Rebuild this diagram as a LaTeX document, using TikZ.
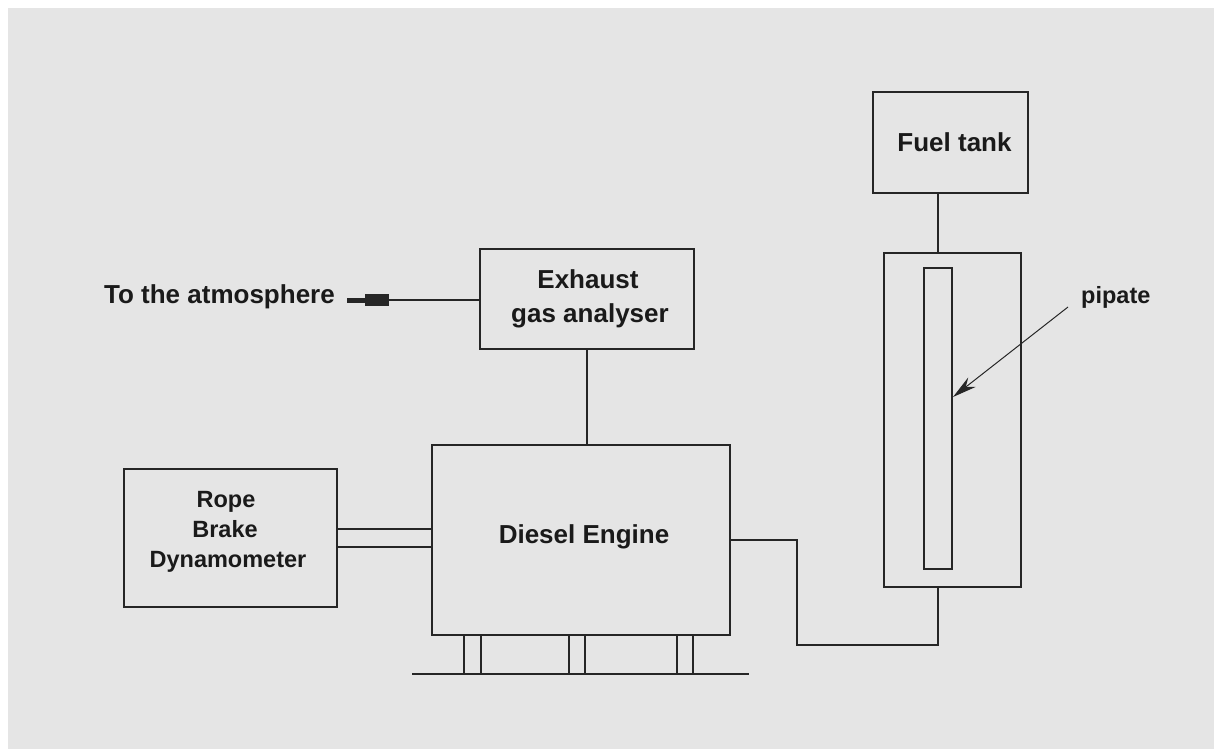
\documentclass[tikz,border=0pt]{standalone}
\usepackage{fontspec}
\setmainfont{Liberation Sans}
\usetikzlibrary{arrows.meta,calc}
\definecolor{bgc}{HTML}{E5E5E5}
\definecolor{lnc}{HTML}{262626}
\definecolor{txc}{HTML}{1A1A1A}
\tikzset{
  box/.style={draw=lnc, line width=1.6pt, rectangle, inner sep=0pt},
  lbl/.style={text=txc, font=\fontsize{26}{30}\selectfont\bfseries, inner sep=0pt},
  slbl/.style={text=txc, font=\fontsize{23.5}{30}\selectfont\bfseries, inner sep=0pt},
  conn/.style={draw=lnc, line width=1.6pt},
}
\begin{document}
\begin{tikzpicture}[x=1pt,y=-1pt]
\useasboundingbox (0,0) rectangle (1214,749);
\fill[white] (0,0) rectangle (1214,749);
\fill[bgc] (8,8) rectangle (1214,749);

% boxes
\node[box, minimum width=155pt, minimum height=101pt] (fuel) at (950.5,142.5) {};
\node[lbl] (fuellbl) at (954.5,142.5) {Fuel tank};
\node[box, minimum width=137pt, minimum height=334pt] (burette) at (952.5,420) {};
\node[box, minimum width=28pt, minimum height=301pt] (tube) at (938,418.5) {};
\node[box, minimum width=214pt, minimum height=100pt] (exhaust) at (587,299) {};
\node[lbl, anchor=base] (exl1) at (588,288) {Exhaust};
\node[lbl, anchor=base] (exl2) at (590,322) {gas analyser};
\node[box, minimum width=298pt, minimum height=190pt] (engine) at (581,540) {};
\node[lbl, anchor=base] (englbl) at (584,543) {Diesel Engine};
\node[box, minimum width=213pt, minimum height=138pt] (dyno) at (230.5,538) {};
\node[slbl, anchor=base] (dy1) at (226,507) {Rope};
\node[slbl, anchor=base] (dy2) at (225,537) {Brake};
\node[slbl, anchor=base] (dy3) at (228,567) {Dynamometer};

% legs and ground
\node[box, minimum width=17pt, minimum height=39pt] (leg1) at (472.5,654.5) {};
\node[box, minimum width=16pt, minimum height=39pt] (leg2) at (577,654.5) {};
\node[box, minimum width=16pt, minimum height=39pt] (leg3) at (685,654.5) {};
\coordinate (g1) at (412,674);
\coordinate (g2) at (749,674);
\draw[conn] (g1) -- (g2);

% labels
\node[lbl, anchor=base east] (atm) at (335,303) {To the atmosphere};
\node[slbl, anchor=base west] (pip) at (1081,303) {pipate};
\coordinate (atmtip) at (347,300);
\coordinate (pstart) at (1068,307);
\coordinate (ptip) at (953,397);

% connectors
\draw[conn] (tube.north |- fuel.south) -- (tube.north |- burette.north);
\draw[conn] (exhaust.south) -- (exhaust.south |- engine.north);
\draw[conn, -{Rectangle[length=24pt,width=12pt]Rectangle[length=18pt,width=5pt]}] (exhaust.west |- atmtip) -- (atmtip);
\draw[conn] ([yshift=9pt]dyno.east) -- ([yshift=9pt]dyno.east -| engine.west);
\draw[conn] ([yshift=-9pt]dyno.east) -- ([yshift=-9pt]dyno.east -| engine.west);
\coordinate (bend) at (797,645);
\draw[conn] (tube.south |- burette.south) |- (bend) |- (engine.east);
\draw[draw=lnc, line width=1pt, -{Stealth[length=24pt,width=12pt]}] (pstart) -- (ptip);
\end{tikzpicture}
\end{document}
